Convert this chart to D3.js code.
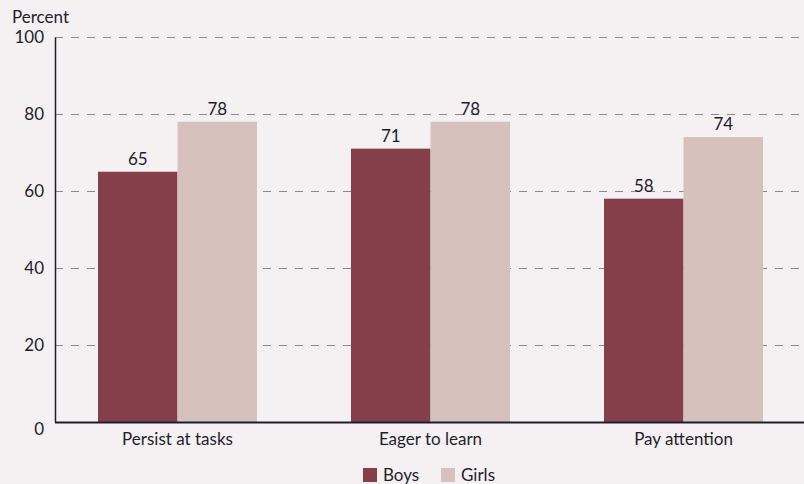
<!DOCTYPE html>
<html><head><meta charset="utf-8">
<script src="https://cdn.jsdelivr.net/npm/d3@7"></script>
<style>
html,body{margin:0;padding:0;background:#f5f0f1;}
svg{display:block;font-family:Lato, "Open Sans", sans-serif;}
</style></head>
<body><svg id="c" width="804" height="484"></svg>
<script>
const categories = ["Persist at tasks", "Eager to learn", "Pay attention"];
const seriesNames = ["Boys", "Girls"];
const boys = [65, 71, 58];
const girls = [78, 78, 74];
const yTicks = [0, 20, 40, 60, 80, 100];

const colors = {Boys: "#843f4b", Girls: "#d7c1bc"};
const textColor = "#1e1e2e";
const fs = 17;
const svg = d3.select("#c");
svg.append("rect").attr("width", 804).attr("height", 484).attr("fill", "#f5f0f1");

const y = d3.scaleLinear().domain([0, 100]).range([422, 37]);
const x0 = d3.scaleBand().domain(categories).range([51, 810]).padding(0);
const barW = 79.5;
const x1 = d3.scaleBand().domain(seriesNames).range([0, barW * 2]);

// gridlines
svg.append("g").selectAll("line").data(yTicks.filter(d => d > 0)).join("line")
  .attr("x1", 55).attr("x2", 804)
  .attr("y1", d => Math.round(y(d)) + 0.5).attr("y2", d => Math.round(y(d)) + 0.5)
  .attr("stroke", "#8a8a8a").attr("stroke-width", 1.2).attr("stroke-dasharray", "8,8");

// bars
const data = categories.map((c, i) => ({cat: c, vals: [{k: "Boys", v: boys[i]}, {k: "Girls", v: girls[i]}]}));
const g = svg.append("g").selectAll("g").data(data).join("g")
  .attr("transform", d => `translate(${x0(d.cat) + x0.bandwidth() / 2 - barW},0)`);
g.selectAll("rect").data(d => d.vals).join("rect")
  .attr("x", d => x1(d.k)).attr("width", x1.bandwidth())
  .attr("y", d => y(d.v)).attr("height", d => y(0) - y(d.v))
  .attr("fill", d => colors[d.k]);
g.selectAll("text").data(d => d.vals).join("text")
  .attr("x", d => x1(d.k) + x1.bandwidth() / 2).attr("y", d => y(d.v) - 7)
  .attr("text-anchor", "middle").attr("font-size", fs).attr("fill", textColor)
  .text(d => d.v);

// y axis
const yAxis = svg.append("g").attr("transform", "translate(55,0)")
  .call(d3.axisLeft(y).tickValues(yTicks).tickSize(0).tickPadding(11));
yAxis.select(".domain").attr("stroke", textColor).attr("stroke-width", 1.5);
yAxis.selectAll("text").attr("font-size", fs).attr("fill", textColor).attr("font-family", "Lato, sans-serif");
yAxis.select(".tick:first-of-type text").attr("dy", "0.75em");

// x axis baseline
const xAxis = svg.append("g").attr("transform", "translate(0,422)")
  .call(d3.axisBottom(x0).tickSize(0).tickPadding(11));
xAxis.select(".domain").remove();
svg.append("line").attr("x1", 55).attr("x2", 804).attr("y1", 422.5).attr("y2", 422.5)
  .attr("stroke", textColor).attr("stroke-width", 2);
xAxis.selectAll("text").attr("font-size", fs).attr("fill", textColor).attr("font-family", "Lato, sans-serif");

// title
svg.append("text").attr("x", 12).attr("y", 23).attr("font-size", fs).attr("fill", textColor).text("Percent");

// legend
const lg = svg.append("g").attr("transform", "translate(363,468)");
const items = lg.selectAll("g").data(seriesNames).join("g")
  .attr("transform", (d, i) => `translate(${i * 78},0)`);
items.append("rect").attr("width", 14).attr("height", 14).attr("y", 0).attr("fill", d => colors[d]);
items.append("text").attr("x", 20).attr("y", 13).attr("font-size", fs).attr("fill", textColor).text(d => d);
</script></body></html>
